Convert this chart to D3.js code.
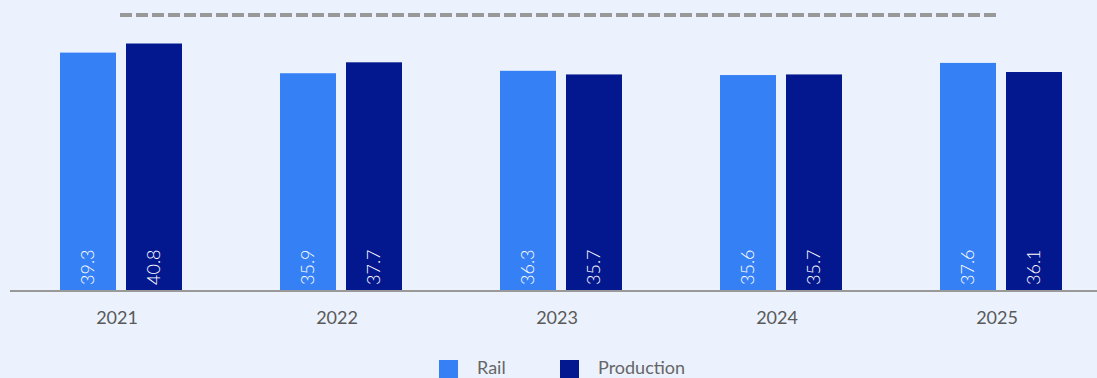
<!DOCTYPE html>
<html>
<head>
<meta charset="utf-8">
<script src="https://cdn.jsdelivr.net/npm/d3@7"></script>
<style>
  html, body { margin: 0; padding: 0; background: #EBF2FD; }
  svg { display: block; font-family: Lato, "Noto Sans", sans-serif; }
</style>
</head>
<body>
<svg id="chart" width="1097" height="378"></svg>
<script>
// Yearly values per series
const years = ["2021", "2022", "2023", "2024", "2025"];
const seriesNames = ["Rail", "Production"];
const railValues = [39.3, 35.9, 36.3, 35.6, 37.6];
const productionValues = [40.8, 37.7, 35.7, 35.7, 36.1];
// Dashed reference level drawn across the categories
const referenceLevel = 45.5;
const yDomainMax = 45.5;

const colors = { Rail: "#3580F5", Production: "#03178F" };

const width = 1097, height = 378;
const svg = d3.select("#chart");

const baseline = 291;
const x = d3.scaleBand().domain(years).range([11, 1111]).paddingInner(0).paddingOuter(0);
const inner = d3.scaleBand().domain(seriesNames).range([x.bandwidth() / 2 - 61, x.bandwidth() / 2 + 61]).paddingInner(10 / 66);
const y = d3.scaleLinear().domain([0, yDomainMax]).range([baseline, 15]);

const rows = years.map((yr, i) => ({
  year: yr,
  values: [
    { key: "Rail", value: railValues[i] },
    { key: "Production", value: productionValues[i] }
  ]
}));

// Reference dashed line from first to last category centre
const lineGen = d3.line().x(d => d).y(() => y(referenceLevel));
svg.append("path")
  .attr("d", lineGen([x(years[0]) + x.bandwidth() / 2 - 1, x(years[years.length - 1]) + x.bandwidth() / 2 - 3]))
  .attr("stroke", "#999")
  .attr("stroke-width", 4)
  .attr("stroke-dasharray", "12 4")
  .attr("fill", "none");

// Bars
const groups = svg.selectAll("g.year").data(rows).join("g")
  .attr("class", "year")
  .attr("transform", d => `translate(${x(d.year)},0)`);

groups.selectAll("rect").data(d => d.values).join("rect")
  .attr("x", d => inner(d.key))
  .attr("width", inner.bandwidth())
  .attr("y", d => y(d.value))
  .attr("height", d => baseline - y(d.value))
  .attr("fill", d => colors[d.key]);

// Value labels inside bars, rotated
groups.selectAll("text.val").data(d => d.values).join("text")
  .attr("class", "val")
  .attr("transform", d => `translate(${inner(d.key) + inner.bandwidth() / 2 - 1},${baseline - 6}) rotate(-90)`)
  .attr("dominant-baseline", "central")
  .attr("text-anchor", "start")
  .attr("fill", "#fff")
  .attr("font-size", 18)
  .attr("font-weight", 300)
  .text(d => d.value.toFixed(1));

// X axis
const xAxis = d3.axisBottom(x).tickSize(0).tickPadding(0);
const axisG = svg.append("g").attr("transform", `translate(0,${baseline})`).call(xAxis);
axisG.select(".domain").remove();
axisG.selectAll("text")
  .attr("x", -4)
  .attr("y", 33)
  .attr("dy", 0)
  .attr("fill", "#595959")
  .attr("font-size", 18)
  .attr("font-family", 'Lato, "Noto Sans", sans-serif');

svg.append("line")
  .attr("x1", 10).attr("x2", width)
  .attr("y1", baseline).attr("y2", baseline)
  .attr("stroke", "#999")
  .attr("stroke-width", 2);

// Legend
const legendItems = [
  { key: "Rail", x: 439 },
  { key: "Production", x: 560 }
];
const lg = svg.append("g").selectAll("g").data(legendItems).join("g")
  .attr("transform", d => `translate(${d.x},360)`);
lg.append("rect").attr("width", 19).attr("height", 19).attr("fill", d => colors[d.key]);
lg.append("text")
  .attr("x", 38).attr("y", 14)
  .attr("fill", "#666")
  .attr("font-size", 18)
  .text(d => d.key);
</script>
</body>
</html>
